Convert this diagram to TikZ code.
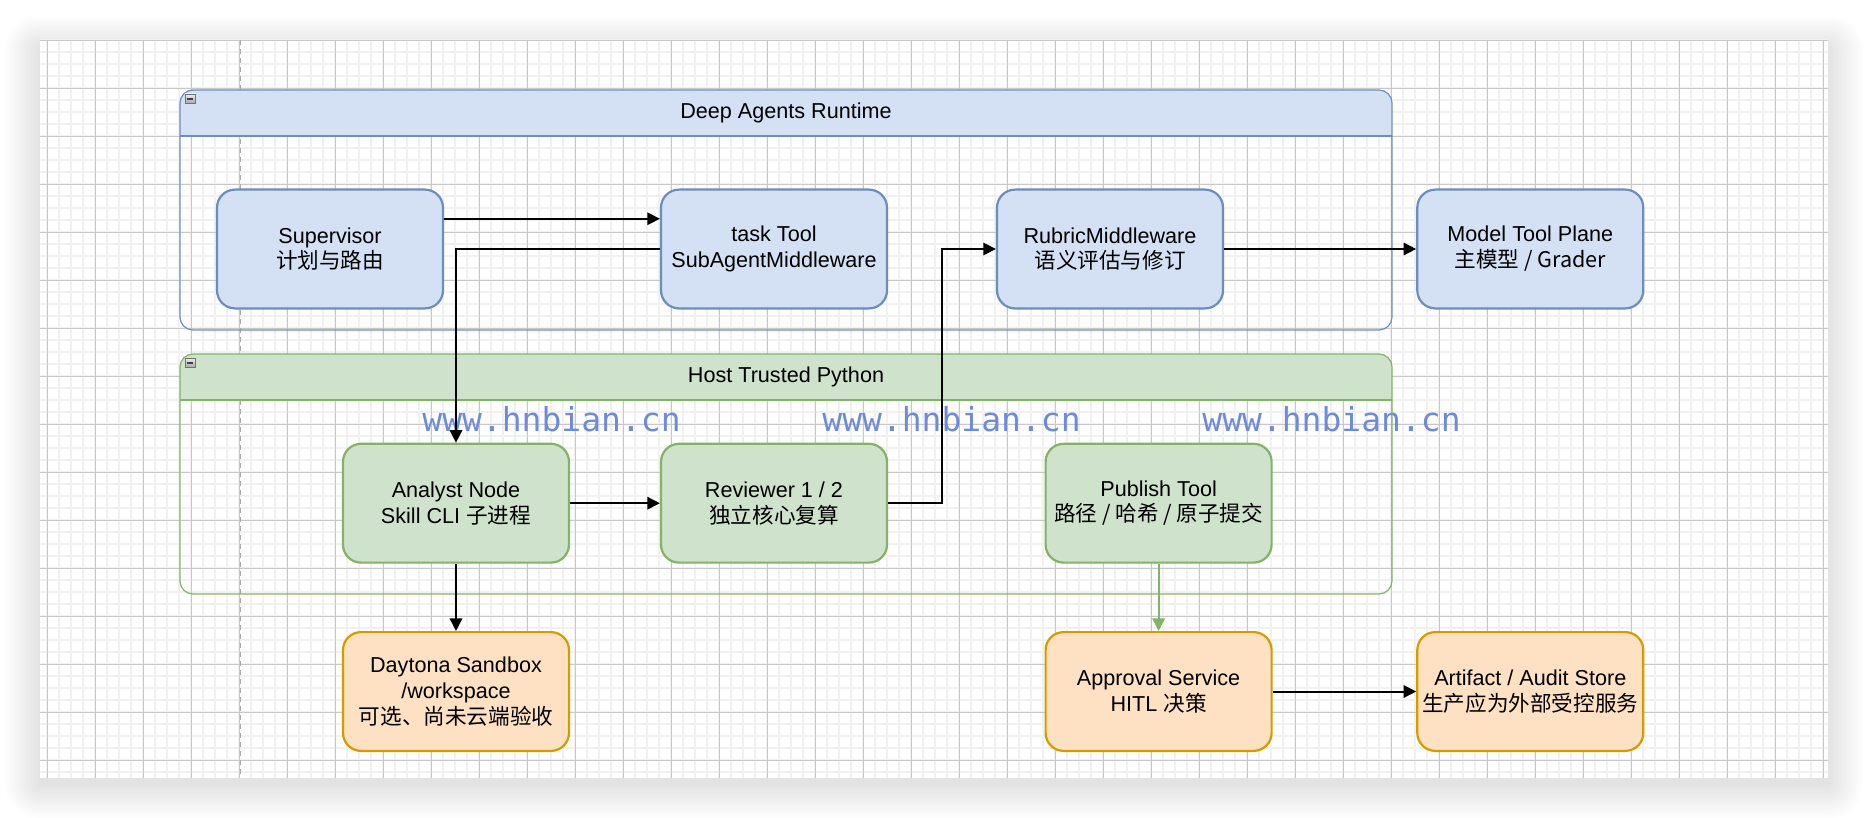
\documentclass[tikz,border=0pt]{standalone}
\usepackage{fontspec}
\setmainfont{Liberation Sans}
\newfontfamily\cjk{Noto Sans CJK SC}
\newfontfamily\wmfont{DejaVu Sans Mono}
\usetikzlibrary{arrows.meta,calc}
\definecolor{bluefill}{HTML}{D4E1F5}
\definecolor{bluestroke}{HTML}{6C8EBF}
\definecolor{greenfill}{HTML}{CFE3CC}
\definecolor{greenstroke}{HTML}{82B366}
\definecolor{orangefill}{HTML}{FEE0C2}
\definecolor{orangestroke}{HTML}{D79B00}
\definecolor{minorgrid}{HTML}{F1F1F1}
\definecolor{majorgrid}{HTML}{C8C8C8}
\definecolor{wmblue}{HTML}{6E8ADC}
\tikzset{
  txt/.style={font=\fontsize{10.8}{12.9}\selectfont, align=center, text=black},
  box/.style={txt, draw, rounded corners=9pt, line width=1.1pt,
    minimum width=113pt, minimum height=59.4pt, inner sep=2pt},
  bluebox/.style={box, fill=bluefill, draw=bluestroke},
  greenbox/.style={box, fill=greenfill, draw=greenstroke},
  orangebox/.style={box, fill=orangefill, draw=orangestroke},
  arr/.style={draw=black, line width=1pt, -{Triangle[length=6.3pt,width=6.2pt]}},
  garr/.style={draw=greenstroke, line width=1pt, -{Triangle[length=6.3pt,width=6.2pt]}},
  minorline/.style={draw=minorgrid, line width=1pt},
  majorline/.style={draw=majorgrid, line width=0.5pt},
  wm/.style={font=\wmfont\fontsize{16.5}{18}\selectfont, text=wmblue, anchor=base west, inner sep=0pt},
  hdr/.style={txt}
}
\begin{document}
\begin{tikzpicture}[x=0.5pt,y=-0.5pt]
\useasboundingbox (0,0) rectangle (1868,818);
\fill[white] (0,0) rectangle (1868,818);
% soft shadow of the canvas
\foreach \i in {1,...,28} {
  \fill[black, opacity=0.0042, rounded corners={0.6pt*\i}] ({40-1.25*\i},{50-1.25*\i}) rectangle ({1828+1.25*\i},{784+1.25*\i});
}
% canvas
\fill[white] (40,40) rectangle (1828,778);
\begin{scope}
\clip (40,40) rectangle (1828,778);
\foreach \k in {0,...,148} { \draw[minorline] ({47.3+12*\k},40) -- ({47.3+12*\k},778); }
\foreach \k in {0,...,61} { \draw[minorline] (40,{40.3+12*\k}) -- (1828,{40.3+12*\k}); }
\foreach \k in {0,...,37} { \draw[majorline] ({47.3+48*\k},40) -- ({47.3+48*\k},778); }
\foreach \k in {0,...,15} { \draw[majorline] (40,{40.3+48*\k}) -- (1828,{40.3+48*\k}); }
\draw[draw=majorgrid!85!black, line width=0.5pt, dash pattern=on 2.5pt off 2pt] (240,40) -- (240,778);
\end{scope}
% watermarks
\node[wm] (wm1) at (422,431.7) {www.hnbian.cn};
\node[wm] (wm2) at (822,431.7) {www.hnbian.cn};
\node[wm] (wm3) at (1202,431.7) {www.hnbian.cn};
% container: Deep Agents Runtime
\begin{scope}
\clip (180,90) rectangle (1392,136);
\fill[bluefill, rounded corners=6.5pt] (180,90) rectangle (1392,200);
\end{scope}
\draw[bluestroke, line width=0.6pt, rounded corners=6.5pt] (180,90) rectangle (1392,330);
\draw[bluestroke, line width=0.6pt] (180,136) -- (1392,136);
\node[hdr] (deeptitle) at (786,113) {Deep Agents Runtime};
% container: Host Trusted Python
\begin{scope}
\clip (180,354) rectangle (1392,400);
\fill[greenfill, rounded corners=6.5pt] (180,354) rectangle (1392,460);
\end{scope}
\draw[greenstroke, line width=0.6pt, rounded corners=6.5pt] (180,354) rectangle (1392,594);
\draw[greenstroke, line width=0.6pt] (180,400) -- (1392,400);
\node[hdr] (hosttitle) at (786,377) {Host Trusted Python};
% collapse icons
\foreach \yy in {94,358} {
  \shade[top color=white!85!gray, bottom color=gray!70, draw=gray!90!black, line width=0.4pt] (185,\yy) rectangle (195,{\yy+9.5});
  \draw[black!75, line width=0.9pt] (187.3,{\yy+4.75}) -- (192.7,{\yy+4.75});
}
% nodes
\node[bluebox] (sup) at (330,249) {Supervisor\\\cjk{计划与路由}};
\node[bluebox] (task) at (774,249) {task Tool\\SubAgentMiddleware};
\node[bluebox] (rubric) at (1110,249) {RubricMiddleware\\\cjk{语义评估与修订}};
\node[bluebox] (model) at (1530.3,249) {Model Tool Plane\\\cjk{主模型} / Grader};
\node[greenbox] (analyst) at (456,503.2) {Analyst Node\\Skill CLI \cjk{子进程}};
\node[greenbox] (reviewer) at (774,503.2) {Reviewer 1 / 2\\\cjk{独立核心复算}};
\node[greenbox] (publish) at (1158.6,503.2) {Publish Tool\\\cjk{路径} / \cjk{哈希} / \cjk{原子提交}};
\node[orangebox] (daytona) at (456,691.5) {Daytona Sandbox\\/workspace\\\cjk{可选、尚未云端验收}};
\node[orangebox] (approval) at (1158.6,691.5) {Approval Service\\HITL \cjk{决策}};
\node[orangebox] (artifact) at (1530.3,691.5) {Artifact / Audit Store\\\cjk{生产应为外部受控服务}};
% connectors
\draw[arr] ($(sup.north east)!0.25!(sup.south east)$) -- ($(task.north west)!0.25!(task.south west)$);
\draw[arr] (task.west) -| (analyst.north);
\draw[arr] (analyst.east) -- (reviewer.west);
\coordinate (mid) at ($(reviewer.east)!0.5!(rubric.west)$);
\draw[arr] (reviewer.east) -| (mid) |- (rubric.west);
\draw[arr] (rubric.east) -- (model.west);
\draw[arr] (analyst.south) -- (daytona.north);
\draw[garr] (publish.south) -- (approval.north);
\draw[arr] (approval.east) -- (artifact.west);
\end{tikzpicture}
\end{document}
